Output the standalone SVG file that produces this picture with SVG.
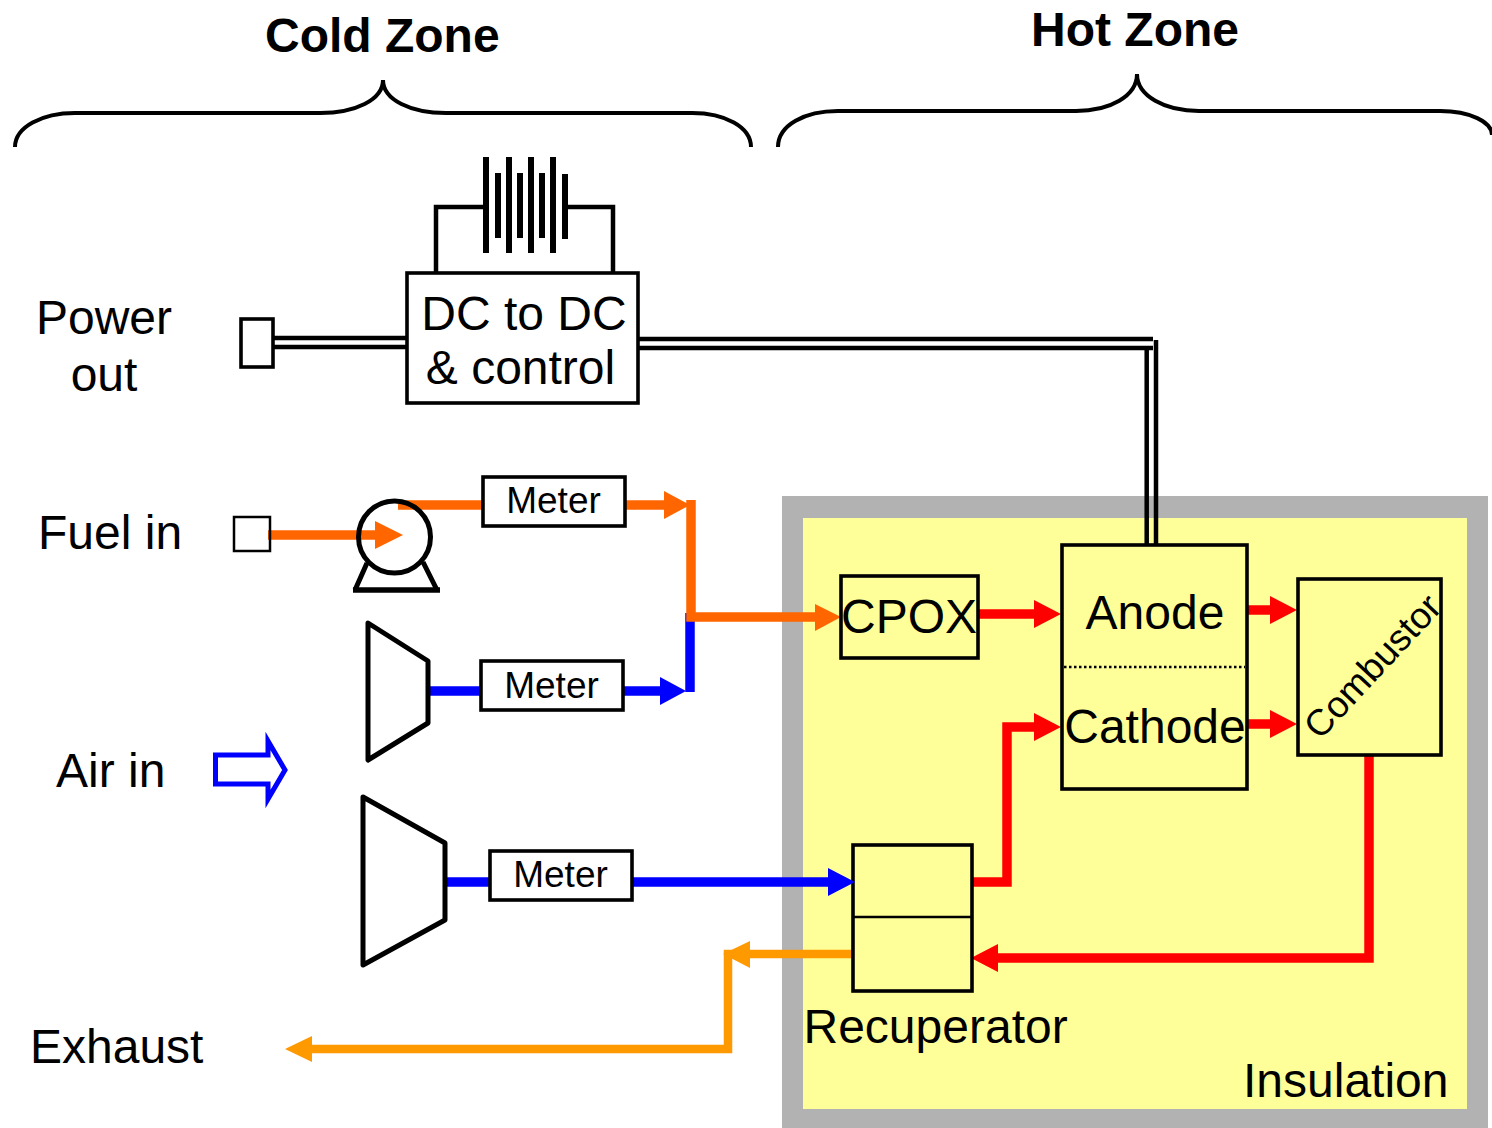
<svg xmlns="http://www.w3.org/2000/svg" width="1492" height="1128" viewBox="0 0 1492 1128">
<style>
text{font-family:"Liberation Sans",Arial,sans-serif;font-size:48px;fill:#000}
.b{font-weight:bold;font-size:48px}
.m{font-size:37px;text-anchor:middle}
.c{font-size:37px}
.box{fill:none;stroke:#000;stroke-width:3.600}
.wb{fill:#fff;stroke:#000;stroke-width:3.600}
.sym{fill:#fff;stroke:#000;stroke-width:5;stroke-linejoin:round}
.w{fill:none;stroke:#000;stroke-width:4.500}
.br{fill:none;stroke:#000;stroke-width:4}
.cell{fill:none;stroke:#000;stroke-width:6}
.o,.bl,.r,.a{fill:none;stroke-width:9.5}
.o{stroke:#ff6600}.bl{stroke:#0000ff}.r{stroke:#ff0000}.a{stroke:#ff9900;stroke-width:8.5}
.fo{fill:#ff6600}.fb{fill:#0000ff}.fr{fill:#ff0000}.fa{fill:#ff9900}
</style>
<rect width="1492" height="1128" fill="#fff"/>
<g id="insulation">
<rect x="782" y="496" width="706" height="632" fill="#b2b2b2"/>
<rect x="803" y="518" width="664" height="591" fill="#ffff99"/>
<text x="1243" y="1097">Insulation</text>
</g>
<g id="cold-zone">
<path class="br" d="M15 147C15 127 42 113 75 113H320C355 113 383 100 383 80C383 100 411 113 446 113H692C725 113 751 127 751 147"/>
<text class="b" x="265" y="52">Cold Zone</text>
</g>
<g id="hot-zone">
<path class="br" d="M778 147C778 125 805 111 838 111H1076C1110 111 1137 96 1137 74C1137 96 1165 111 1199 111H1440C1470 111 1492 122 1492 135"/>
<text class="b" x="1031" y="46">Hot Zone</text>
</g>
<g id="connectors">
<path class="w" d="M273 338H407M273 347H407"/>
<path class="w" d="M639 339H1153M639 348H1153"/>
<path class="w" d="M1146.700 346V545M1156 340V545"/>
<path class="w" d="M436 272V207H484M613 273V207H567"/>
<path class="o" d="M268 535H376"/>
<path class="o" d="M398 505H484"/>
<path class="o" d="M626 505H666"/>
<path class="bl" d="M690 613V692"/>
<path class="bl" d="M428 691H482M624 691H662"/>
<path class="o" d="M691 500V617H817"/>
<path class="bl" d="M445 882H490M633 882H830"/>
<path class="r" d="M978 614H1036M1248 610H1272M1248 724H1272"/>
<path class="r" d="M973 882H1007V727H1036"/>
<path class="r" d="M1369 755V958H996"/>
<path class="a" d="M853 954H728V1049H310"/>
<path class="fo" d="M375 521L403 535L375 549Z"/>
<path class="fo" d="M664 491L690 505L664 519Z"/>
<path class="fb" d="M660 677L686 691L660 705Z"/>
<path class="fo" d="M815 604L841 617L815 631Z"/>
<path class="fr" d="M1034 600L1061 614L1034 628Z"/>
<path class="fr" d="M1270 596L1297 610L1270 624Z"/>
<path class="fr" d="M1270 710L1297 724L1270 738Z"/>
<path class="fr" d="M1034 713L1061 727L1034 741Z"/>
<path class="fr" d="M998 944L971 958L998 972Z"/>
<path class="fa" d="M750 941L723 954L750 968Z"/>
<path class="fa" d="M312 1036L285 1049L312 1062Z"/>
</g>
<g id="battery">
<path class="cell" d="M486 157V253M509 157V253M531 157V253M553 157V253"/>
<path class="cell" d="M498 173V238M520 173V238M542 173V238M565 174V239"/>
</g>
<g id="dc-dc"><rect class="box" x="407" y="273" width="231" height="130"/>
<text x="524" y="330" text-anchor="middle">DC to DC</text><text x="520.500" y="384" text-anchor="middle">&amp; control</text></g>
<g id="power-out"><text x="104" y="334" text-anchor="middle">Power</text><text x="104" y="391" text-anchor="middle">out</text>
<rect class="box" x="241" y="319" width="32" height="48"/></g>
<g id="fuel-in"><text x="38" y="549">Fuel in</text><rect x="234" y="517" width="36" height="34" fill="none" stroke="#000" stroke-width="2.500"/></g>
<g id="air-in"><text x="56" y="787">Air in</text>
<path d="M215.500 755H268V741L285 770L268 799V784H215.500Z" fill="none" stroke="#0000ff" stroke-width="5"/></g>
<g id="exhaust"><text x="30" y="1063">Exhaust</text></g>
<g id="pump">
<circle cx="394.500" cy="537" r="36" fill="none" stroke="#000" stroke-width="5"/>
<path d="M367 563L355 590M423 562L437 590" fill="none" stroke="#000" stroke-width="5"/>
<path d="M353 590H440" stroke="#000" stroke-width="5.500"/>
</g>
<g id="compressor-1"><path class="sym" d="M368 623L428 661V723L368 760Z"/></g>
<g id="compressor-2"><path class="sym" d="M363 797L445 843V920L363 965Z"/></g>
<g id="meter-1"><rect class="wb" x="483" y="477" width="142" height="49"/><text class="m" x="553.500" y="513">Meter</text></g>
<g id="meter-2"><rect class="wb" x="481" y="661" width="142" height="49"/><text class="m" x="551.500" y="698">Meter</text></g>
<g id="meter-3"><rect class="wb" x="490" y="851" width="142" height="49"/><text class="m" x="560.500" y="887">Meter</text></g>
<g id="cpox"><rect class="box" x="841" y="576" width="137" height="82"/><text x="909" y="633" text-anchor="middle">CPOX</text></g>
<g id="fuel-cell"><rect class="box" x="1062" y="545" width="185" height="244"/>
<path d="M1064 667H1245" stroke="#000" stroke-width="2.500" stroke-dasharray="2.500 2.500"/>
<text x="1155" y="629" text-anchor="middle">Anode</text><text x="1155" y="743" text-anchor="middle">Cathode</text></g>
<g id="combustor"><rect class="box" x="1298" y="579" width="143" height="176"/>
<text class="c" transform="translate(1320 741) rotate(-47)">Combustor</text></g>
<g id="recuperator"><rect class="box" x="853" y="845" width="119" height="146"/><path d="M853 917H972" stroke="#000" stroke-width="2.500"/>
<text x="803.500" y="1043">Recuperator</text></g>
<path id="air-head" class="fb" d="M828 868L855 882L828 896Z"/>
</svg>
